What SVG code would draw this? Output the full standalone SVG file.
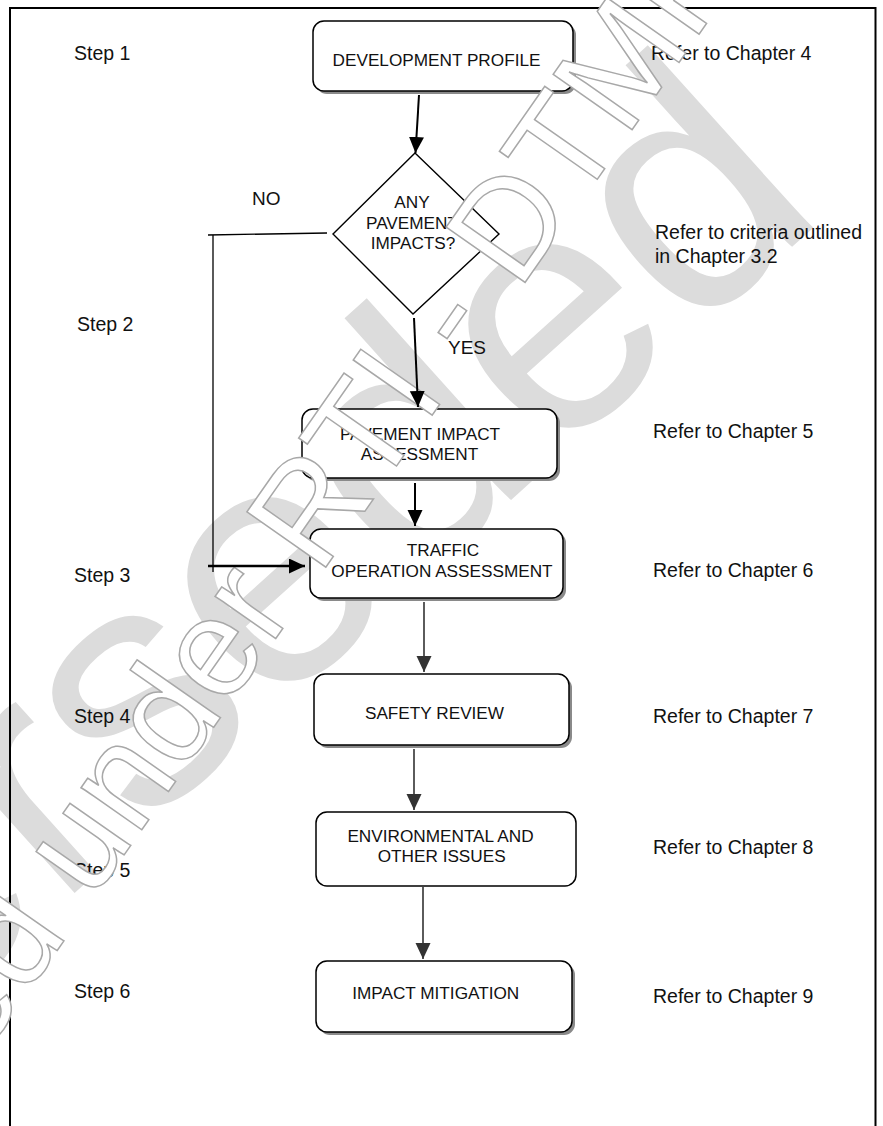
<svg xmlns="http://www.w3.org/2000/svg" width="883" height="1126" viewBox="0 0 883 1126">
<style>
  .frame{fill:none;stroke:#000;stroke-width:2}
  .box{fill:#fff;stroke:#000;stroke-width:1.5}
  .shadow{fill:#8a8a8a}
  .bt{font-family:"Liberation Sans",Arial,sans-serif;font-size:17.2px;fill:#111;text-anchor:middle}
  .lbl{font-family:"Liberation Sans",Arial,sans-serif;font-size:19.5px;fill:#111}
  .yn{font-family:"Liberation Sans",Arial,sans-serif;font-size:19px;fill:#111}
  .c1{fill:none;stroke:#000;stroke-width:2}
  .c2{fill:none;stroke:#333;stroke-width:1.6}
  .thin{fill:none;stroke:#000;stroke-width:1.3}
  .wm-fill{font-family:"Liberation Sans",Arial,sans-serif;font-size:340px;fill:#dcdcdc}
  .wm-out{font-family:"Liberation Sans",Arial,sans-serif;font-size:140px;fill:#fff;stroke:#a8a8a8;stroke-width:1.5}
</style>
<defs>
  <marker id="ahB" markerUnits="userSpaceOnUse" markerWidth="18" markerHeight="16" refX="16" refY="7.5" orient="auto">
    <path d="M0,0 L16,7.5 L0,15 z" fill="#000"/>
  </marker>
  <marker id="ahG" markerUnits="userSpaceOnUse" markerWidth="18" markerHeight="16" refX="16" refY="7.5" orient="auto">
    <path d="M0,0 L16,7.5 L0,15 z" fill="#333"/>
  </marker>
</defs>
<rect width="883" height="1126" fill="#fff"/>

<g id="watermark-fill">
  <text class="wm-fill" transform="translate(-533,1440) rotate(-42)">Superseded</text>
</g>

<path class="frame" d="M10,1126 V8 H875.5 V1126"/>

<g id="n-development">
  <rect class="shadow" x="316" y="24" width="260" height="70" rx="11"/>
  <rect class="box" x="313" y="21" width="260" height="70" rx="11"/>
  <text class="bt" x="436.5" y="65.5">DEVELOPMENT PROFILE</text>
</g>

<g id="n-decision">
  <polygon points="415,153 499,234 413,314 333,234" fill="#fff" stroke="#000" stroke-width="1.4"/>
  <text class="bt" x="412" y="208">ANY</text>
  <text class="bt" x="412" y="229">PAVEMENT</text>
  <text class="bt" x="413" y="249">IMPACTS?</text>
</g>

<g id="n-pavement">
  <rect class="shadow" x="305" y="412" width="255" height="69" rx="11"/>
  <rect class="box" x="302" y="409" width="255" height="69" rx="11"/>
  <text class="bt" x="420" y="440">PAVEMENT IMPACT</text>
  <text class="bt" x="419.5" y="460">ASSESSMENT</text>
</g>

<g id="n-traffic">
  <rect class="shadow" x="313" y="532" width="253" height="69" rx="11"/>
  <rect class="box" x="310" y="529" width="253" height="69" rx="11"/>
  <text class="bt" x="443" y="556">TRAFFIC</text>
  <text class="bt" x="442" y="577">OPERATION ASSESSMENT</text>
</g>

<g id="n-safety">
  <rect class="shadow" x="317" y="677" width="255" height="71" rx="11"/>
  <rect class="box" x="314" y="674" width="255" height="71" rx="11"/>
  <text class="bt" x="434.5" y="719">SAFETY REVIEW</text>
</g>

<g id="n-environmental">
  <rect class="box" x="316" y="812" width="260" height="74" rx="11"/>
  <text class="bt" x="440.5" y="842">ENVIRONMENTAL AND</text>
  <text class="bt" x="441.7" y="862">OTHER ISSUES</text>
</g>

<g id="n-mitigation">
  <rect class="shadow" x="319" y="964" width="256" height="71" rx="11"/>
  <rect class="box" x="316" y="961" width="256" height="71" rx="11"/>
  <text class="bt" x="435.7" y="999">IMPACT MITIGATION</text>
</g>

<g id="step-labels">
  <text class="lbl" x="74" y="60">Step 1</text>
  <text class="lbl" x="77" y="331">Step 2</text>
  <text class="lbl" x="74" y="582">Step 3</text>
  <text class="lbl" x="74" y="723">Step 4</text>
  <text class="lbl" x="74" y="877">Step 5</text>
  <text class="lbl" x="74" y="998">Step 6</text>
</g>

<g id="chapter-refs">
  <text class="lbl" x="651" y="60">Refer to Chapter 4</text>
  <text class="lbl" x="655" y="239">Refer to criteria outlined</text>
  <text class="lbl" x="655" y="263">in Chapter 3.2</text>
  <text class="lbl" x="653" y="438">Refer to Chapter 5</text>
  <text class="lbl" x="653" y="577">Refer to Chapter 6</text>
  <text class="lbl" x="653" y="723">Refer to Chapter 7</text>
  <text class="lbl" x="653" y="854">Refer to Chapter 8</text>
  <text class="lbl" x="653" y="1003">Refer to Chapter 9</text>
</g>

<g id="watermark-outline">
  <text class="wm-out" transform="translate(-270,1418) rotate(-55)">Released under RTI - DTMR</text>
</g>

<g id="connectors">
  <line class="c1" x1="419" y1="95" x2="415.5" y2="153" marker-end="url(#ahB)"/>
  <line class="c1" x1="414" y1="318" x2="418" y2="407" marker-end="url(#ahB)"/>
  <line class="c1" x1="415" y1="483" x2="415" y2="526" marker-end="url(#ahB)"/>
  <polyline class="thin" points="327,233 208,235"/>
  <line class="thin" x1="213" y1="235" x2="213" y2="572"/>
  <line x1="208" y1="566" x2="305" y2="566" stroke="#000" stroke-width="2.6" marker-end="url(#ahB)"/>
  <line class="c2" x1="424" y1="602" x2="424" y2="672" marker-end="url(#ahG)"/>
  <line class="c2" x1="414" y1="749" x2="414" y2="810" marker-end="url(#ahG)"/>
  <line class="c2" x1="423" y1="887" x2="423" y2="959" marker-end="url(#ahG)"/>
  <text class="yn" x="252" y="205">NO</text>
  <text class="yn" x="448" y="354">YES</text>
</g>
</svg>
